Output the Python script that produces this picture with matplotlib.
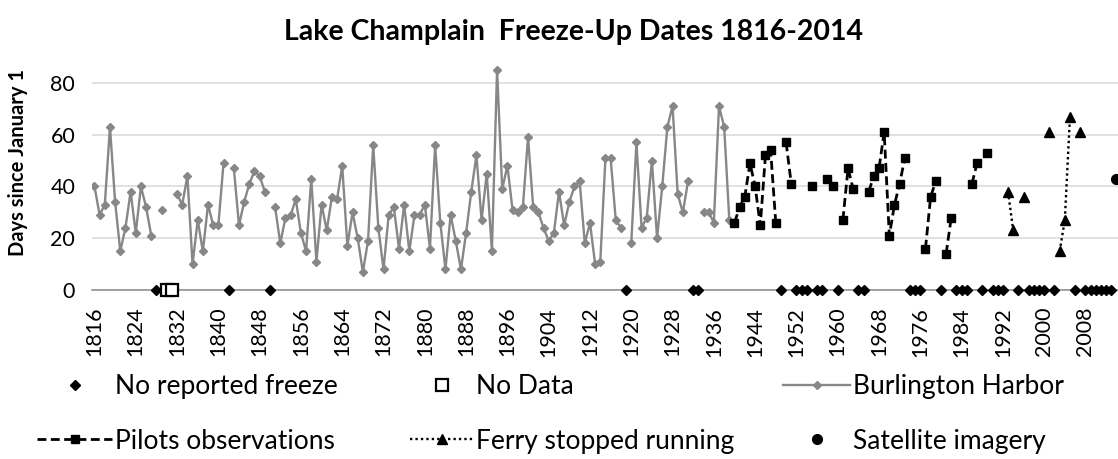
import numpy as np
import matplotlib
matplotlib.use("Agg")
from matplotlib import pyplot as plt

plt.rcParams['font.family'] = ['Lato', 'DejaVu Sans']

# Burlington Harbor 1816-1939, None = no freeze / no data that year
harbor_years = list(range(1816, 1940))
harbor_days = [
    40, 29, 33, 63, 34, 15, 24, 38, 22, 40, 32, 21, None, 31, None, None,   # 1816-1831
    37, 33, 44, 10, 27, 15, 33, 25, 25, 49, None, 47, 25, 34, 41, 46,       # 1832-1847
    44, 38, None, 32, 18, 28, 29, 35, 22, 15, 43, 11, 33, 23, 36, 35,       # 1848-1863
    48, 17, 30, 20, 7, 19, 56, 24, 8, 29, 32, 16, 33, 15, 29, 29,           # 1864-1879
    33, 16, 56, 26, 8, 29, 19, 8, 22, 38, 52, 27, 45, 15, 85, 39,           # 1880-1895
    48, 31, 30, 32, 59, 32, 30, 24, 19, 22, 38, 25, 34, 40, 42, 18,         # 1896-1911
    26, 10, 11, 51, 51, 27, 24, None, 18, 57, 24, 28, 50, 20, 40, 63,       # 1912-1927
    71, 37, 30, 42, None, None, 30, 30, 26, 71, 63, 27,                     # 1928-1939
]

# Pilots observations 1940-1989
pilot_years = list(range(1940, 1990))
pilot_days = [
    26, 32, 36, 49, 40, 25, 52, 54, 26, None,          # 1940-1949
    57, 41, None, None, None, 40, None, None, 43, 40,  # 1950-1959
    None, 27, 47, 39, None, None, 38, 44, 47, 61,      # 1960-1969
    21, 33, 41, 51, None, None, None, 16, 36, 42,      # 1970-1979
    None, 14, 28, None, None, None, 41, 49, None, 53,  # 1980-1989
]

# Ferry stopped running 1993-2007
ferry_years = list(range(1993, 2008))
ferry_days = [38, 23, None, 36, None, None, None, None, 61, None, 15, 27, 67, None, 61]

# Satellite imagery
satellite_years = [2014]
satellite_days = [43]

no_freeze_years = [1828, 1842, 1850, 1919, 1932, 1933, 1949, 1952, 1953, 1954,
                   1956, 1957, 1960, 1964, 1965, 1974, 1975, 1976, 1980, 1983,
                   1984, 1985, 1988, 1990, 1991, 1992, 1995, 1997, 1998, 1999,
                   2000, 2002, 2006, 2008, 2009, 2010, 2011, 2012, 2013]
no_data_years = [1830, 1831]

tick_years = list(range(1816, 2009, 8))


def to_arr(vals):
    return np.array([np.nan if v is None else v for v in vals], dtype=float)


def main():
    fig = plt.figure(figsize=(11.18, 4.59), dpi=100)
    ax = fig.add_axes([0.0822, 0.368, 0.9187, 0.508])

    gray = '#878787'
    h_harbor, = ax.plot(harbor_years, to_arr(harbor_days), color=gray, lw=1.7,
                        marker='D', ms=3.6, label='Burlington Harbor')
    h_pilot, = ax.plot(pilot_years, to_arr(pilot_days), color='black', lw=2.0,
                       ls=(0, (3.2, 1.6)), marker='s', ms=6, label='Pilots observations')
    h_ferry, = ax.plot(ferry_years, to_arr(ferry_days), color='black', lw=1.7,
                       ls=(0, (1, 1.3)), marker='^', ms=7, label='Ferry stopped running')
    h_sat, = ax.plot(satellite_years, satellite_days, color='black', ls='none',
                     marker='o', ms=7, clip_on=False, label='Satellite imagery')
    h_nf, = ax.plot(no_freeze_years, np.zeros(len(no_freeze_years)), ls='none',
                    marker='D', ms=4.8, color='black', clip_on=False, zorder=5,
                    label='No reported freeze')
    h_nd, = ax.plot(no_data_years, np.zeros(len(no_data_years)), ls='none',
                    marker='s', ms=8, mfc='white', mec='black', mew=1.6,
                    clip_on=False, zorder=6, label='No Data')

    ax.set_xlim(1815.5, 2014.5)
    ax.set_ylim(0, 90)
    ax.set_yticks([0, 20, 40, 60, 80])
    ax.set_xticks(tick_years)
    ax.set_xticklabels([str(y) for y in tick_years], rotation=90)
    ax.tick_params(axis='both', length=0, labelsize=15.5)
    ax.tick_params(axis='y', pad=12)
    ax.tick_params(axis='x', pad=12)
    ax.grid(axis='y', color='#d9d9d9', lw=1.1)
    ax.set_axisbelow(True)
    for s in ['top', 'left', 'right']:
        ax.spines[s].set_visible(False)
    ax.spines['bottom'].set_color('#8a8a8a')
    ax.spines['bottom'].set_linewidth(1.1)

    fig.text(0.513, 0.930, 'Lake Champlain  Freeze-Up Dates 1816-2014',
             ha='center', va='center', fontsize=20.5, fontweight='bold')
    fig.text(0.016, 0.645, 'Days since January 1', rotation=90,
             ha='center', va='center', fontsize=14.5, fontweight='bold')

    # legend: three columns placed like the original
    fs = 19
    cols = [
        ([h_nf, h_pilot], 37, 2.85),
        ([h_nd, h_ferry], 410, 2.4),
        ([h_harbor, h_sat], 783, 2.55),
    ]
    for hs, x0, hl in cols:
        fig.legend(hs, [h.get_label() for h in hs], loc='center left',
                   bbox_to_anchor=(x0 / 1118, 1 - 414 / 459), frameon=False,
                   fontsize=fs, borderpad=0, borderaxespad=0, handlelength=hl,
                   handletextpad=0.12, labelspacing=1.1, numpoints=1)

    fig.savefig('out.png', dpi=100)


if __name__ == '__main__':
    main()
